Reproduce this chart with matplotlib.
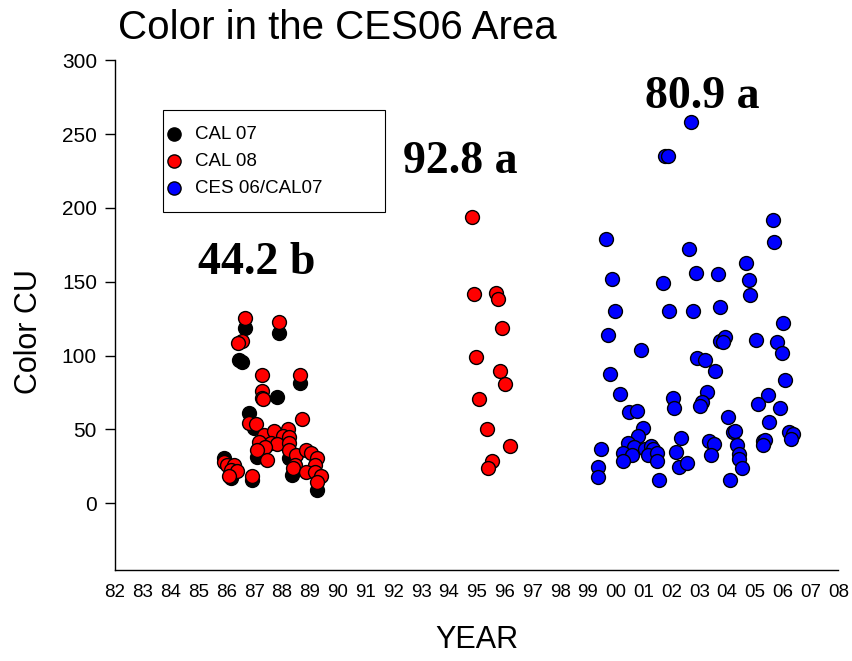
import matplotlib
matplotlib.use("Agg")
import matplotlib.pyplot as plt
from matplotlib import font_manager
from matplotlib.patches import Rectangle

plt.rcParams["font.family"] = ["Liberation Sans", "DejaVu Sans"]

# ---------------------------------------------------------------- data
cal07_year = [1986.68, 1987.91, 1986.47, 1986.57, 1988.66, 1987.83, 1986.83, 1987.01,
              1987.11, 1988.27, 1988.37, 1989.27, 1985.93, 1986.18, 1986.93]
cal07_color = [118.5, 115.1, 96.8, 95.5, 81.2, 71.8, 60.9, 50.8,
               31.1, 30.5, 19.0, 8.8, 30.5, 16.9, 15.6]

cal08_year = [1986.68, 1987.91, 1986.57, 1986.43, 1987.29, 1988.66, 1987.29, 1987.29,
              1987.33, 1988.73, 1986.83, 1987.08, 1987.37, 1987.73, 1988.23, 1988.05,
              1988.27, 1987.19, 1987.62, 1987.83, 1987.40, 1987.11, 1988.27, 1987.47,
              1988.27, 1988.52, 1988.88, 1989.06, 1989.27, 1989.20, 1988.48, 1988.41,
              1988.88, 1989.20, 1989.42, 1989.27, 1985.93, 1986.03, 1986.29, 1986.18,
              1986.39, 1986.11, 1986.93,
              # mid-90s samples
              1994.82, 1994.89, 1995.68, 1995.76, 1995.90, 1994.96, 1995.83, 1996.01,
              1995.07, 1995.36, 1996.19, 1995.54, 1995.40]
cal08_color = [125.3, 122.5, 109.7, 108.3, 86.7, 86.7, 75.8, 71.1,
               70.4, 56.9, 54.2, 53.5, 46.0, 48.7, 50.1, 45.4,
               44.7, 41.3, 40.6, 39.9, 37.9, 35.9, 40.6, 29.1,
               35.9, 32.5, 35.9, 33.9, 30.5, 25.7, 25.7, 23.7,
               21.0, 21.0, 18.3, 14.2, 27.8, 25.7, 25.7, 22.3,
               21.7, 18.3, 18.3,
               193.6, 141.5, 142.2, 138.1, 118.5, 98.8, 89.4, 80.6,
               70.4, 50.1, 38.6, 28.4, 23.7]

ces06_year = [2002.71, 2001.77, 2001.88, 1999.64, 2002.63, 1999.86, 2002.89, 2003.68,
              2001.70, 1999.97, 2001.91, 2002.78, 2003.75, 1999.72, 2000.91, 2003.75,
              2002.92, 2003.21, 2003.57, 1999.79, 2000.15, 2002.06, 2002.09, 2003.28,
              2003.10, 2003.03, 2000.47, 2000.76, 2000.98, 2000.80, 2000.44, 2000.65,
              1999.47, 2000.26, 2000.58, 2000.26, 2001.05, 2001.27, 2001.34, 2001.16,
              2001.48, 2001.48, 2002.35, 2002.17, 2002.27, 2002.56, 2003.35, 2003.53,
              2003.43, 1999.36, 1999.36, 2001.55,
              2005.66, 2005.69, 2004.69, 2004.79, 2004.83, 2006.02, 2003.93, 2003.86,
              2005.05, 2005.80, 2005.98, 2006.09, 2005.48, 2005.12, 2005.91, 2005.51,
              2004.04, 2006.23, 2006.38, 2006.31, 2004.22, 2004.29, 2005.30, 2005.37,
              2005.30, 2004.36, 2004.43, 2004.43, 2004.54, 2004.11]
ces06_color = [258.0, 234.9, 234.9, 178.7, 172.0, 151.7, 155.7, 155.0,
               149.0, 130.0, 130.0, 130.0, 132.7, 113.7, 103.6, 109.7,
               98.2, 96.8, 89.4, 87.3, 73.8, 71.1, 64.3, 75.2,
               68.4, 65.7, 61.6, 62.3, 50.8, 45.4, 40.6, 37.9,
               36.6, 33.9, 32.5, 28.4, 36.6, 38.6, 36.6, 32.5,
               33.9, 28.4, 44.0, 34.5, 24.4, 27.1, 42.0, 39.9,
               32.5, 24.4, 17.6, 15.6,
               191.6, 176.7, 162.5, 151.0, 140.8, 121.9, 112.4, 109.0,
               110.4, 109.0, 101.6, 83.3, 73.1, 67.0, 64.3, 54.8,
               58.2, 48.1, 46.7, 43.3, 48.1, 48.7, 42.0, 42.7,
               39.3, 39.3, 33.2, 29.8, 23.7, 15.6]

year_ticks = list(range(1982, 2009))
year_labels = [f"{y % 100:02d}" for y in year_ticks]

group_labels = ["44.2 b", "92.8 a", "80.9 a"]
group_label_pos = [(1987.1, 163), (1994.4, 231), (2003.1, 275)]

# narrow face for the year axis if it is around
installed = {f.name for f in font_manager.fontManager.ttflist}
narrow = None
for cand in ("Liberation Sans Narrow", "DejaVu Sans Condensed", "Arial Narrow"):
    if cand in installed:
        narrow = cand
        break
xfam = [narrow, "Liberation Sans"] if narrow else ["Liberation Sans"]
xtick_size = 16 if narrow else 13.5
xlabel_size = 26 if narrow else 22

# ---------------------------------------------------------------- plot
fig = plt.figure(figsize=(8.52, 6.61), dpi=100)
ax = fig.add_axes([0.135, 0.138, 0.849, 0.771])

mkw = dict(s=100, edgecolors="black", linewidths=1.0, zorder=3)
ax.scatter(cal07_year, cal07_color, c="black", label="CAL 07", **mkw)
ax.scatter(cal08_year, cal08_color, c="red", label="CAL 08", **mkw)
ax.scatter(ces06_year, ces06_color, c="blue", label="CES 06/CAL07", **mkw)

ax.set_xlim(1982, 2008)
ax.set_ylim(-45, 300)
ax.set_xticks(year_ticks)
ax.set_xticklabels(year_labels, family=xfam, fontsize=xtick_size)
ax.set_yticks(range(0, 301, 50))
ax.tick_params(axis="x", length=0, pad=10)
ax.tick_params(axis="y", direction="out", length=7, width=1, labelsize=15, pad=6)

for side in ("top", "right"):
    ax.spines[side].set_visible(False)
for side in ("left", "bottom"):
    ax.spines[side].set_linewidth(1.0)

ax.set_xlabel("YEAR", fontsize=xlabel_size, family=xfam)
ax.xaxis.set_label_coords(0.5, -0.108)
ax.set_ylabel("Color CU", fontsize=22)
ax.yaxis.set_label_coords(-0.098, 0.467)

for txt, (x, y) in zip(group_labels, group_label_pos):
    ax.text(x, y, txt, ha="center", va="center", fontsize=33, fontweight="bold",
            family=["Liberation Serif", "DejaVu Serif"])

# legend box drawn separately so its size matches the original
ax.add_patch(Rectangle((0.0664, 0.702), 0.307, 0.200, transform=ax.transAxes,
                       fill=False, edgecolor="black", linewidth=0.8, zorder=4))
ax.legend(loc="upper left", bbox_to_anchor=(0.048, 0.902), borderaxespad=0,
          fontsize=13.5, frameon=False, borderpad=0.82, handlelength=0.9,
          handletextpad=0.71, labelspacing=0.53, scatterpoints=1, markerscale=0.95)

fig.text(0.138, 0.957, "Color in the CES06 Area", fontsize=29, ha="left", va="center")

fig.savefig("out.png", dpi=100)
